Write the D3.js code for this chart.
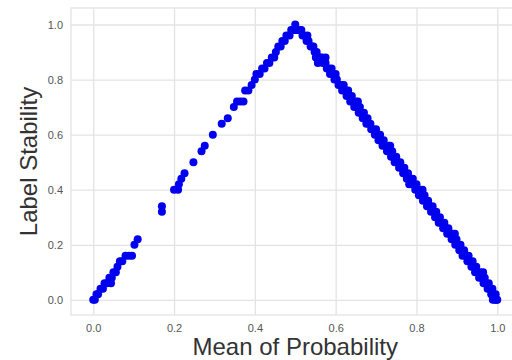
<!DOCTYPE html>
<html>
<head>
<meta charset="utf-8">
<script src="https://cdn.jsdelivr.net/npm/d3@7"></script>
<style>
  html, body { margin: 0; padding: 0; background: #fff; }
  svg { display: block; }
</style>
</head>
<body>
<svg id="chart" width="512" height="360"></svg>
<script>
// ---- Data ----
const xTicks = [0.0, 0.2, 0.4, 0.6, 0.8, 1.0];
const yTicks = [0.0, 0.2, 0.4, 0.6, 0.8, 1.0];
const xTitle = "Mean of Probability";
const yTitle = "Label Stability";

const leftMean = [0.000,0.004,0.008,0.012,0.018,0.024,0.028,0.034,0.040,0.044,0.046,0.050,0.056,0.060,0.066,0.072,0.080,0.088,0.096,0.102,0.110,0.170,0.170,0.200,0.210,0.212,0.218,0.226,0.248,0.268,0.276,0.296,0.318,0.333,0.348,0.356,0.364,0.372,0.376,0.384,0.392,0.400,0.404,0.412,0.418,0.424,0.430,0.436,0.442,0.448,0.452,0.458,0.464,0.468,0.474,0.478,0.486,0.490,0.494,0.500,0.500,0.504];
const leftStability = [0.00,0.00,0.02,0.02,0.04,0.04,0.06,0.06,0.08,0.06,0.08,0.10,0.10,0.12,0.14,0.14,0.16,0.16,0.16,0.20,0.22,0.32,0.34,0.40,0.40,0.42,0.44,0.46,0.50,0.54,0.56,0.60,0.64,0.66,0.70,0.72,0.72,0.72,0.76,0.76,0.78,0.80,0.82,0.82,0.84,0.84,0.86,0.86,0.88,0.88,0.90,0.92,0.92,0.94,0.94,0.96,0.96,0.98,0.98,1.00,0.98,0.98];

const rightMean = [0.508,0.512,0.518,0.522,0.528,0.533,0.538,0.542,0.548,0.553,0.557,0.562,0.556,0.568,0.572,0.578,0.583,0.586,0.592,0.597,0.603,0.607,0.612,0.616,0.622,0.626,0.627,0.633,0.636,0.641,0.646,0.652,0.655,0.657,0.662,0.667,0.673,0.676,0.682,0.688,0.693,0.697,0.703,0.706,0.712,0.716,0.722,0.726,0.727,0.733,0.737,0.742,0.746,0.752,0.757,0.763,0.767,0.772,0.776,0.782,0.786,0.782,0.788,0.793,0.797,0.802,0.806,0.812,0.816,0.823,0.826,0.832,0.836,0.843,0.846,0.852,0.855,0.861,0.866,0.872,0.876,0.882,0.887,0.887,0.892,0.896,0.902,0.906,0.911,0.914,0.921,0.926,0.932,0.936,0.941,0.945,0.951,0.955,0.961,0.966,0.972,0.976,0.981,0.985,0.991,0.994,0.998,1.000];
const rightStability = [0.98,0.98,0.96,0.96,0.94,0.94,0.92,0.92,0.90,0.90,0.88,0.88,0.86,0.86,0.86,0.84,0.84,0.82,0.82,0.80,0.80,0.78,0.78,0.76,0.76,0.76,0.74,0.74,0.72,0.72,0.70,0.70,0.70,0.68,0.68,0.66,0.66,0.64,0.64,0.62,0.62,0.60,0.60,0.58,0.58,0.56,0.56,0.56,0.54,0.54,0.52,0.52,0.50,0.50,0.48,0.48,0.46,0.46,0.44,0.44,0.44,0.42,0.42,0.42,0.40,0.40,0.38,0.38,0.36,0.36,0.34,0.34,0.32,0.32,0.30,0.30,0.28,0.28,0.26,0.26,0.24,0.24,0.24,0.22,0.22,0.20,0.20,0.18,0.18,0.16,0.16,0.14,0.14,0.12,0.12,0.10,0.10,0.08,0.08,0.06,0.06,0.04,0.04,0.02,0.02,0.00,0.00,0.00];

const extraMean = [0.515,0.530,0.545,0.551,0.566,0.575,0.575,0.590,0.600,0.615,0.620,0.631,0.640,0.650,0.655,0.660,0.670,0.679,0.686,0.700,0.710,0.719,0.731,0.735,0.740,0.750,0.760,0.770,0.779,0.791,0.800,0.810,0.815,0.820,0.829,0.840,0.849,0.858,0.869,0.879,0.890,0.895,0.899,0.909,0.918,0.929,0.939,0.948,0.958,0.965,0.969,0.979,0.988,0.996,0.989];
const extraStability = [0.98,0.96,0.92,0.88,0.88,0.86,0.88,0.84,0.82,0.78,0.78,0.76,0.74,0.72,0.72,0.70,0.68,0.66,0.64,0.62,0.60,0.58,0.56,0.56,0.54,0.52,0.50,0.48,0.46,0.44,0.42,0.40,0.40,0.38,0.36,0.34,0.32,0.30,0.28,0.26,0.24,0.24,0.22,0.20,0.18,0.16,0.14,0.12,0.10,0.10,0.08,0.06,0.04,0.02,0.00];

// ---- Chart ----
const svg = d3.select("#chart");
const frame = { left: 71, top: 8, right: 519.5, bottom: 315 };
const gridColor = "#e3e3e3";
const textColor = "#555";
const font = "'Liberation Sans', Arial, sans-serif";

const x = d3.scaleLinear().domain([-0.055, 1.055]).range([frame.left, frame.right]);
const y = d3.scaleLinear().domain([-0.055, 1.06]).range([frame.bottom, frame.top]);

// grid
const gx = svg.append("g")
  .attr("transform", `translate(0,${frame.bottom})`)
  .call(d3.axisBottom(x).tickValues(xTicks).tickSize(-(frame.bottom - frame.top)).tickFormat(d3.format(".1f")).tickPadding(9));
gx.select(".domain").remove();
gx.selectAll(".tick line").attr("stroke", gridColor).attr("stroke-width", 1.3);
gx.selectAll(".tick text").attr("fill", textColor).attr("font-family", font).attr("font-size", 11);

const gy = svg.append("g")
  .attr("transform", `translate(${frame.left},0)`)
  .call(d3.axisLeft(y).tickValues(yTicks).tickSize(-(frame.right - frame.left)).tickFormat(d3.format(".1f")).tickPadding(8));
gy.select(".domain").remove();
gy.selectAll(".tick line").attr("stroke", gridColor).attr("stroke-width", 1.3);
gy.selectAll(".tick text").attr("fill", textColor).attr("font-family", font).attr("font-size", 11);

// frame
svg.append("rect")
  .attr("x", frame.left).attr("y", frame.top)
  .attr("width", frame.right - frame.left).attr("height", frame.bottom - frame.top)
  .attr("fill", "none").attr("stroke", gridColor).attr("stroke-width", 1.3);

// points
const pts = leftMean.map((m, i) => ({ m, s: leftStability[i] }))
  .concat(rightMean.map((m, i) => ({ m, s: rightStability[i] })))
  .concat(extraMean.map((m, i) => ({ m, s: extraStability[i] })));
svg.append("g").selectAll("circle").data(pts).join("circle")
  .attr("cx", d => x(d.m)).attr("cy", d => y(d.s))
  .attr("r", 4).attr("fill", "#0000ee");

// axis titles
svg.append("text")
  .attr("x", (frame.left + frame.right) / 2).attr("y", 355)
  .attr("text-anchor", "middle").attr("font-family", font).attr("font-size", 24)
  .attr("fill", "#333").text(xTitle);
svg.append("text")
  .attr("transform", `translate(37,${(frame.top + frame.bottom) / 2}) rotate(-90)`)
  .attr("text-anchor", "middle").attr("font-family", font).attr("font-size", 24)
  .attr("fill", "#333").text(yTitle);
</script>
</body>
</html>
